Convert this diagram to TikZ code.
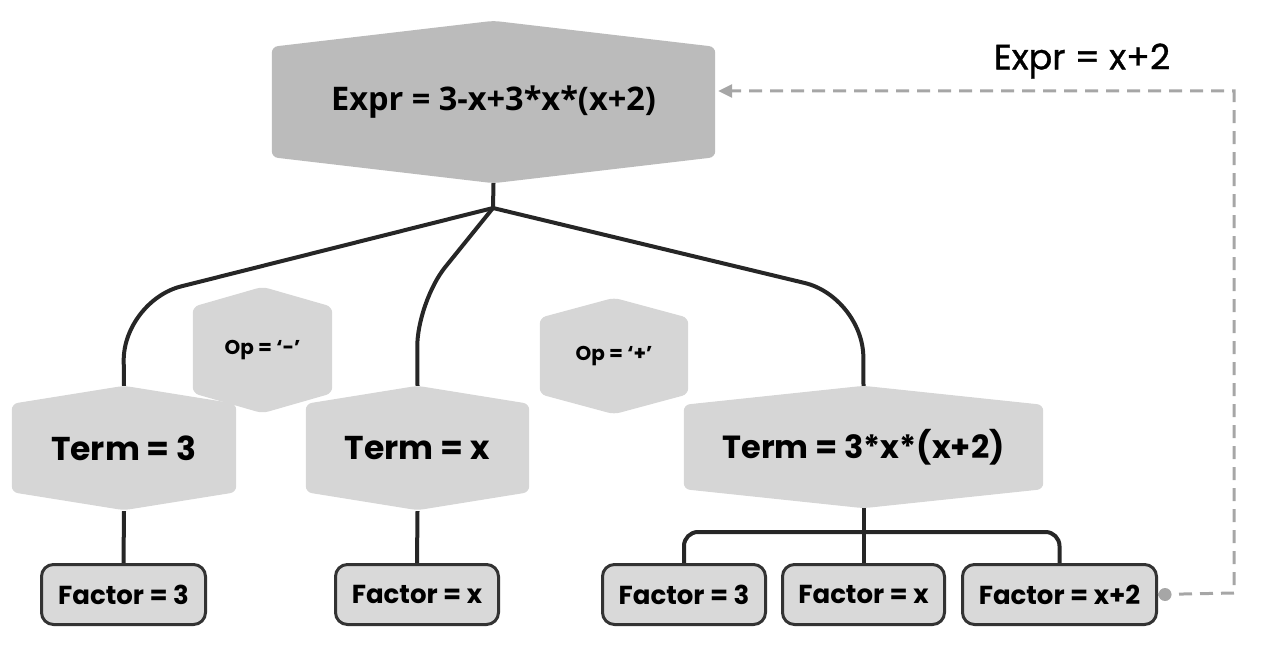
\documentclass[tikz,border=0pt]{standalone}
\usepackage{fontspec}
\setmainfont{Poppins}
\newfontfamily\topfont{Open Sans}
\newfontfamily\medfont[FakeBold=1]{Poppins}
\usetikzlibrary{arrows.meta,backgrounds}
\definecolor{topfill}{HTML}{BBBBBB}
\definecolor{hexgray}{HTML}{D6D6D6}
\definecolor{factorfill}{HTML}{D9D9D9}
\definecolor{boxborder}{HTML}{333333}
\definecolor{conncol}{HTML}{262626}
\definecolor{dashcol}{HTML}{A6A6A6}
\newcommand\drawhex[3]{%
  \fill[#3, rounded corners=6pt] (#1.south west) -- (#1.north west) -- ([yshift=#2]#1.north) -- (#1.north east) -- (#1.south east) -- ([yshift=-#2]#1.south) -- cycle;}
\tikzset{
  conn/.style={line width=4pt, draw=conncol},
  hexnode/.style={inner sep=0pt, text=black},
  termfont/.style={font=\bfseries\fontsize{33}{38}\selectfont},
  opfont/.style={font=\bfseries\fontsize{20}{24}\selectfont},
  factor/.style={draw=boxborder, line width=3pt, fill=factorfill, rounded corners=12pt,
     minimum width=#1, minimum height=60pt, inner sep=0pt, text=black,
     font=\bfseries\fontsize{26}{30}\selectfont},
  dashline/.style={draw=dashcol, line width=3pt, dash pattern=on 13pt off 8pt},
}
\begin{document}
\begin{tikzpicture}[x=1pt,y=-1pt]
\useasboundingbox (0,0) rectangle (1264,666);
% hexagon nodes
\node[hexnode, minimum width=443pt, minimum height=110pt, font=\topfont\bfseries\fontsize{32.5}{36}\selectfont] (expr) at (493.5,102) {Expr = 3-x+3*x*(x+2)};
\node[hexnode, opfont, minimum width=139pt, minimum height=86pt] (opm) at (262.5,350) {Op = ‘-’};
\node[hexnode, opfont, minimum width=148pt, minimum height=76pt] (opp) at (614,356) {Op = ‘+’};
\node[hexnode, termfont, minimum width=224pt, minimum height=88pt] (t1) at (124,448) {Term = 3};
\node[hexnode, termfont, minimum width=223pt, minimum height=88pt] (t2) at (417.5,448) {Term = x};
\node[hexnode, font=\bfseries\fontsize{32}{38}\selectfont, minimum width=359pt, minimum height=84pt] (t3) at (863.5,447) {Term = 3*x*(x+2)};
% factor nodes
\node[factor=164pt] (f1) at (123.5,594.5) {Factor = 3};
\node[factor=163pt] (f2) at (417,594.5) {Factor = x};
\node[factor=163pt] (f3) at (684,594.5) {Factor = 3};
\node[factor=162pt] (f4) at (863.5,594.5) {Factor = x};
\node[factor=194pt] (f5) at (1059.5,594.5) {Factor = x+2};
% label
\node[text=black, font=\medfont\fontsize{35}{40}\selectfont] (lbl) at (1082,61) {Expr = x+2};
\coordinate (j) at (493,208);
\coordinate (bar) at (863,532);
\coordinate (dc) at (1234,593);
\coordinate (uc) at (1234,91);
\begin{pgfonlayer}{background}
  \draw[conn] ([yshift=-26pt]expr.south) -- (j);
  \draw[conn, rounded corners=60pt] (j) -- (123,301) -- ([yshift=18pt]t1.north);
  \draw[conn, rounded corners=45pt] (j) -- (417,302) -- ([yshift=18pt]t2.north);
  \draw[conn, rounded corners=60pt] (j) -- (863,297) -- ([yshift=19pt]t3.north);
  \draw[conn] ([yshift=-19pt]t1.south) -- (f1.north);
  \draw[conn] ([yshift=-19pt]t2.south) -- (f2.north);
  \draw[conn] ([yshift=-19pt]t3.south) -- (f4.north);
  \draw[conn, rounded corners=14pt] (f3.north) -- (f3.north |- bar) -- (f5.north |- bar) -- (f5.north);
  \drawhex{expr}{26pt}{topfill}
  \drawhex{opm}{20pt}{hexgray}
  \drawhex{opp}{20pt}{hexgray}
  \drawhex{t1}{18pt}{hexgray}
  \drawhex{t2}{18pt}{hexgray}
  \drawhex{t3}{19pt}{hexgray}
\end{pgfonlayer}
% dashed feedback
\draw[dashline, -{Triangle[length=14pt,width=13pt]}] (f5.east) -- (dc) -- (uc) -- ([xshift=3pt]expr.east |- uc);
\fill[dashcol] ([xshift=7pt]f5.east) circle (6.5pt);
\end{tikzpicture}
\end{document}
